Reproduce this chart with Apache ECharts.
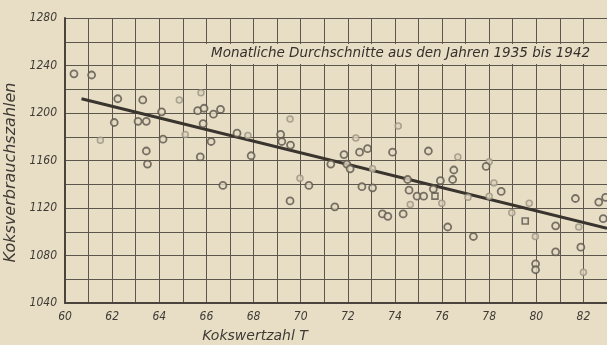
<!DOCTYPE html>
<html>
<head>
<meta charset="utf-8">
<script src="https://cdn.jsdelivr.net/npm/echarts@6/dist/echarts.min.js"></script>
<style>
html, body { margin: 0; padding: 0; background: #e8dec6; }
#chart { width: 607px; height: 345px; }
</style>
</head>
<body>
<div id="chart"></div>
<script>
// Kokswertzahl T (x) / Koksverbrauchszahlen (y), monthly means
const dotT = [60.38, 61.13, 62.24, 63.3, 65.63, 65.9, 66.6, 66.3, 64.1, 62.09, 63.1, 63.45, 65.86, 67.3, 66.2, 64.16, 63.45, 65.74, 63.5, 66.7,
	69.15, 69.2, 69.57, 67.9, 70.35, 69.55, 71.28, 71.84, 72.5, 72.84, 71.96, 72.1, 72.6, 73.05, 71.45, 73.9, 75.42, 74.54, 74.6, 74.94, 75.22,
	73.47, 73.7, 74.35, 76.5, 77.87, 76.45, 75.93, 75.63, 78.51, 76.24, 77.33, 80.82, 80.82, 79.97, 79.97, 81.66, 82.65, 82.94, 82.84, 81.89];
const dotV = [1233, 1232, 1212, 1211, 1202, 1204, 1203, 1199, 1201, 1192, 1193, 1193, 1191, 1183, 1176, 1178, 1168, 1163, 1157, 1139,
	1182, 1176, 1173, 1164, 1139, 1126, 1157, 1165, 1167, 1170, 1157, 1153, 1138, 1137, 1121, 1167, 1168, 1144, 1135, 1130, 1130,
	1115, 1113, 1115, 1152, 1155, 1144, 1143, 1136, 1134, 1104, 1096, 1105, 1083, 1073, 1068, 1128, 1125, 1129, 1111, 1087];
// blurred / faint marks
const faintT = [64.85, 65.77, 65.1, 61.5, 69.55, 67.76, 69.97, 72.34, 73.05, 74.14, 74.65, 76.67, 78.0, 75.99, 77.1, 78.0, 78.2, 78.96, 79.7, 79.96, 81.8, 82.0];
const faintV = [1211, 1217, 1182, 1177, 1195, 1181, 1145, 1179, 1153, 1189, 1123, 1163, 1159, 1124, 1129, 1130, 1141, 1116, 1124, 1096, 1104, 1066];
// square marks
const squareT = [75.7, 79.53];
const squareV = [1130, 1109];
// fitted line
const fitT = [60.7, 83];
const fitV = [1212, 1103];

const xTickLabels = ['60', '62', '64', '66', '68', '70', '72', '74', '76', '78', '80', '82'];
const yTickLabels = ['1040', '1080', '1120', '1160', '1200', '1240', '1280'];

const zip = (a, b) => a.map((v, i) => [v, b[i]]);

const ink = '#4a443d';
const paper = '#e8dec6';
const lblFont = { color: '#3f3a34', fontStyle: 'italic', fontFamily: 'DejaVu Sans Condensed', fontSize: 12 };

const chart = echarts.init(document.getElementById('chart'));
chart.setOption({
	backgroundColor: paper,
	animation: false,
	grid: { left: 65, right: 0, top: 18, bottom: 42, outerBoundsMode: 'none' },
	xAxis: {
		type: 'value', min: 60, max: 83, interval: 1,
		name: 'Kokswertzahl T', nameLocation: 'middle', nameGap: 26,
		nameTextStyle: { color: '#3f3a34', fontStyle: 'italic', fontFamily: 'DejaVu Sans', fontSize: 14, padding: [0, 162, 0, 0] },
		axisLine: { lineStyle: { color: ink, width: 2 } },
		axisTick: { show: false },
		axisLabel: {
			...lblFont, margin: 8, interval: 1,
			formatter: v => (v - 60) % 2 === 0 ? xTickLabels[(v - 60) / 2] : ''
		},
		splitLine: { lineStyle: { color: '#5d564d', width: 1 } }
	},
	yAxis: {
		type: 'value', min: 1040, max: 1280, interval: 20,
		name: 'Koksverbrauchszahlen', nameLocation: 'middle', nameGap: 44, nameRotate: 90,
		nameTextStyle: { color: '#3f3a34', fontStyle: 'italic', fontFamily: 'DejaVu Sans', fontSize: 16, padding: [0, 24, 0, 0] },
		axisLine: { show: true, lineStyle: { color: ink, width: 2 } },
		axisTick: { show: false },
		axisLabel: {
			...lblFont, margin: 8,
			formatter: v => (v - 1040) % 40 === 0 ? yTickLabels[(v - 1040) / 40] : ''
		},
		splitLine: { lineStyle: { color: '#5d564d', width: 1 } }
	},
	graphic: [{
		type: 'rect', left: 206, top: 44, z: 50,
		shape: { width: 395, height: 20 },
		style: { fill: paper }
	}, {
		type: 'text', left: 211, top: 46, z: 51,
		style: {
			text: 'Monatliche Durchschnitte aus den Jahren 1935 bis 1942',
			fill: '#35302b', font: 'italic 13.5px "DejaVu Sans"'
		}
	}],
	series: [{
		type: 'line', data: zip(fitT, fitV), symbol: 'none', z: 3,
		lineStyle: { color: '#3a342e', width: 3 }
	}, {
		type: 'scatter', data: zip(faintT, faintV), symbol: 'circle', symbolSize: 6, z: 4,
		itemStyle: { color: '#ddd2b8', borderColor: '#9a9283', borderWidth: 1.5 }
	}, {
		type: 'scatter', data: zip(dotT, dotV), symbol: 'circle', symbolSize: 7, z: 5,
		itemStyle: { color: '#e3d9c0', borderColor: '#5b544b', borderWidth: 1.8 }
	}, {
		type: 'scatter', data: zip(squareT, squareV), symbol: 'rect', symbolSize: 6, z: 5,
		itemStyle: { color: '#e3d9c0', borderColor: '#5b544b', borderWidth: 1.6 }
	}]
});
</script>
</body>
</html>
